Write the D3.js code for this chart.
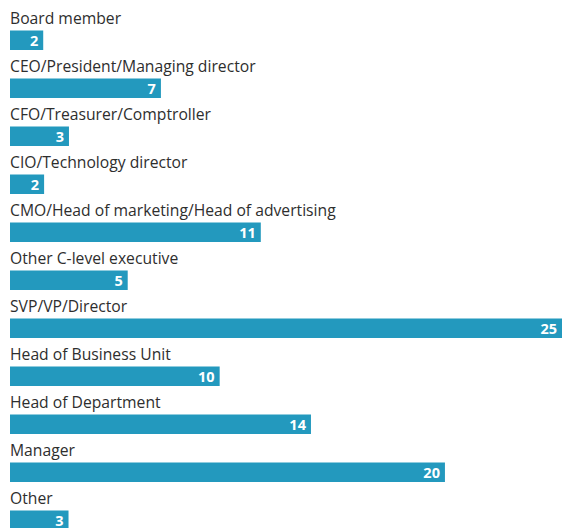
<!DOCTYPE html>
<html><head><meta charset="utf-8">
<script src="https://cdn.jsdelivr.net/npm/d3@7/dist/d3.min.js"></script>
<style>
html,body{margin:0;padding:0;background:#fff;}
svg{display:block;}
</style>
</head><body>
<script>
const categories = ["Board member","CEO/President/Managing director","CFO/Treasurer/Comptroller","CIO/Technology director","CMO/Head of marketing/Head of advertising","Other C-level executive","SVP/VP/Director","Head of Business Unit","Head of Department","Manager","Other"];
const values = [1.51, 6.86, 2.68, 1.55, 11.4, 5.35, 25.1, 9.53, 13.68, 19.77, 2.66];
const valueLabels = ["2","7","3","2","11","5","25","10","14","20","3"];

const W = 562, H = 528;
const svg = d3.select("body").append("svg").attr("width", W).attr("height", H);

const y = d3.scaleBand().domain(categories).range([0, 528]).padding(0);
const x = d3.scaleLinear().domain([0, 25]).range([10, 560]);

const g = svg.selectAll("g.row").data(categories).enter().append("g")
  .attr("transform", d => `translate(0,${y(d)})`);

g.append("text")
  .attr("x", 10).attr("y", 24)
  .attr("font-family", "'Open Sans', sans-serif")
  .attr("font-size", 15.7)
  .attr("fill", "#2e2e2e")
  .text(d => d);

g.append("rect")
  .attr("x", x(0)).attr("y", 30.5)
  .attr("width", (d,i) => x(values[i]) - x(0))
  .attr("height", 19.5)
  .attr("fill", "#2399be");

g.append("text")
  .attr("x", (d,i) => Math.min(x(values[i]), W) - 5)
  .attr("y", 45.5)
  .attr("text-anchor", "end")
  .attr("font-family", "'Open Sans', sans-serif")
  .attr("font-weight", "bold")
  .attr("font-size", 14.5)
  .attr("fill", "#fff")
  .text((d,i) => valueLabels[i]);
</script>
</body></html>
